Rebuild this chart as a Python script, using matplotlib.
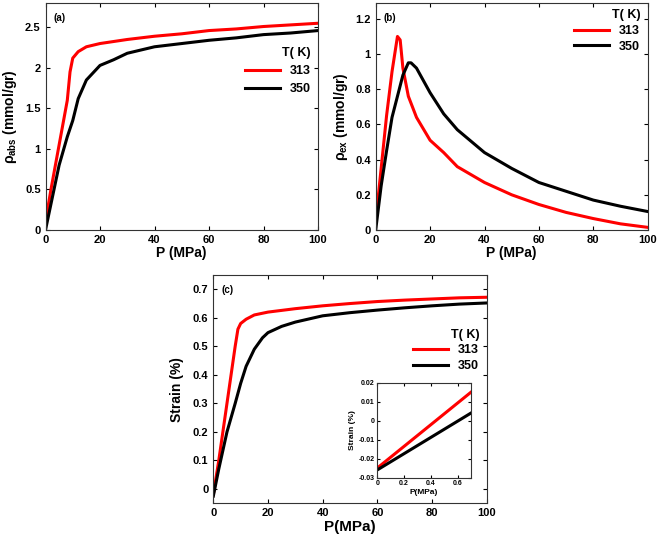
import matplotlib
matplotlib.use('Agg')
import matplotlib.pyplot as plt
from matplotlib.ticker import FuncFormatter

plt.rcParams['font.family'] = ['Liberation Sans', 'DejaVu Sans']
plt.rcParams['font.weight'] = 'bold'
plt.rcParams['axes.labelweight'] = 'bold'
plt.rcParams['mathtext.fontset'] = 'custom'
plt.rcParams['mathtext.rm'] = 'Liberation Sans:bold'
plt.rcParams['mathtext.it'] = 'Liberation Sans:bold'
plt.rcParams['mathtext.bf'] = 'Liberation Sans:bold'

temps = ['313', '350']

# (a) absolute adsorption
p_abs_313 = [0, 2, 5, 8, 9, 10, 12, 15, 20, 30, 40, 50, 60, 70, 80, 90, 100]
abs_313 = [0.1, 0.5, 1.05, 1.6, 1.95, 2.12, 2.2, 2.26, 2.3, 2.35, 2.39, 2.42, 2.46, 2.48, 2.51, 2.53, 2.55]
p_abs_350 = [0, 5, 8, 10, 12, 15, 20, 25, 30, 40, 50, 60, 70, 80, 90, 100]
abs_350 = [0.0, 0.8, 1.15, 1.35, 1.62, 1.85, 2.03, 2.1, 2.18, 2.26, 2.3, 2.34, 2.37, 2.41, 2.43, 2.46]

# (b) excess adsorption
p_ex_313 = [0, 2, 4, 6, 8, 9, 10, 12, 15, 20, 25, 30, 40, 50, 60, 70, 80, 90, 100]
ex_313 = [0.05, 0.35, 0.65, 0.9, 1.1, 1.08, 0.92, 0.76, 0.64, 0.51, 0.44, 0.36, 0.27, 0.2, 0.145, 0.1, 0.065, 0.035, 0.015]
p_ex_350 = [0, 2, 4, 6, 8, 10, 12, 13, 15, 20, 25, 30, 40, 50, 60, 70, 80, 90, 100]
ex_350 = [0.0, 0.25, 0.45, 0.64, 0.76, 0.88, 0.95, 0.95, 0.92, 0.78, 0.66, 0.57, 0.44, 0.35, 0.27, 0.22, 0.17, 0.135, 0.105]

# (c) strain
p_st_313 = [0, 2, 5, 8, 9, 10, 12, 15, 20, 30, 40, 50, 60, 70, 80, 90, 100]
st_313 = [-0.02, 0.1, 0.3, 0.5, 0.56, 0.58, 0.595, 0.61, 0.62, 0.632, 0.642, 0.65, 0.657, 0.662, 0.666, 0.67, 0.672]
p_st_350 = [0, 2, 5, 8, 10, 12, 15, 18, 20, 25, 30, 40, 50, 60, 70, 80, 90, 100]
st_350 = [-0.025, 0.07, 0.2, 0.3, 0.37, 0.43, 0.49, 0.53, 0.548, 0.57, 0.585, 0.607, 0.618, 0.627, 0.635, 0.642, 0.648, 0.652]

# inset, low pressure
p_in = [0, 0.35, 0.7]
in_313 = [-0.025, -0.005, 0.015]
in_350 = [-0.026, -0.011, 0.004]

colors = ['#ff0000', '#000000']
W, H = 660, 536


def add_ax(x0, y0, x1, y1):
    # pixel box -> figure fraction
    return fig.add_axes([x0 / W, 1 - y1 / H, (x1 - x0) / W, (y1 - y0) / H])


def fmt(v, p):
    return '%g' % round(v, 4)


def style(ax, size=8):
    ax.tick_params(direction='in', top=True, right=True, labelsize=size, length=3)
    for s in ax.spines.values():
        s.set_linewidth(0.8)
        s.set_color('#333333')
    ax.yaxis.set_major_formatter(FuncFormatter(fmt))


def legend(ax, anchor_y, loc, spacing=0.5):
    ax.legend(title='T( K)', loc=loc, bbox_to_anchor=(1.0, anchor_y), frameon=False,
              fontsize=9, title_fontproperties={'weight': 'bold', 'size': 9},
              handlelength=2.8, borderaxespad=0.2, alignment='right',
              labelspacing=spacing)


fig = plt.figure(figsize=(6.6, 5.36), dpi=100)

# (a)
ax = add_ax(45.5, 3, 318, 230)
ax.plot(p_abs_313, abs_313, color=colors[0], lw=2.2, label=temps[0])
ax.plot(p_abs_350, abs_350, color=colors[1], lw=2.2, label=temps[1])
ax.set_xlim(0, 100)
ax.set_ylim(0, 2.8)
ax.set_yticks([0, 0.5, 1, 1.5, 2, 2.5])
style(ax)
ax.set_xlabel('P (MPa)', fontsize=10, labelpad=1)
ax.set_ylabel(r'$\rho_{abs}$ (mmol/gr)', fontsize=10, labelpad=4)
ax.text(0.03, 0.955, '(a)', transform=ax.transAxes, fontsize=7, va='top')
legend(ax, 0.7, 'center right')

# (b)
ax = add_ax(375.7, 3, 647.7, 230)
ax.plot(p_ex_313, ex_313, color=colors[0], lw=2.2, label=temps[0])
ax.plot(p_ex_350, ex_350, color=colors[1], lw=2.2, label=temps[1])
ax.set_xlim(0, 100)
ax.set_ylim(0, 1.29)
ax.set_yticks([0, 0.2, 0.4, 0.6, 0.8, 1, 1.2])
style(ax)
ax.set_xlabel('P (MPa)', fontsize=10, labelpad=1)
ax.set_ylabel(r'$\rho_{ex}$ (mmol/gr)', fontsize=10, labelpad=4)
ax.text(0.03, 0.955, '(b)', transform=ax.transAxes, fontsize=7, va='top')
legend(ax, 1.005, 'upper right', spacing=0.3)

# (c)
ax = add_ax(213.3, 275, 486.7, 503.3)
ax.plot(p_st_313, st_313, color=colors[0], lw=2.2, label=temps[0])
ax.plot(p_st_350, st_350, color=colors[1], lw=2.2, label=temps[1])
ax.set_xlim(0, 100)
ax.set_ylim(-0.05, 0.75)
ax.set_yticks([0, 0.1, 0.2, 0.3, 0.4, 0.5, 0.6, 0.7])
style(ax)
ax.set_xlabel('P(MPa)', fontsize=11, labelpad=1)
ax.set_ylabel('Strain (%)', fontsize=10, labelpad=6)
ax.text(0.03, 0.955, '(c)', transform=ax.transAxes, fontsize=7, va='top')
legend(ax, 0.67, 'center right', spacing=0.3)

# inset
axi = add_ax(377.3, 382.7, 471, 477.5)
axi.plot(p_in, in_313, color=colors[0], lw=2.2)
axi.plot(p_in, in_350, color=colors[1], lw=2.2)
axi.set_xlim(0, 0.7)
axi.set_ylim(-0.03, 0.02)
axi.set_xticks([0, 0.2, 0.4, 0.6])
axi.set_yticks([-0.03, -0.02, -0.01, 0, 0.01, 0.02])
style(axi, size=5)
axi.tick_params(length=2, pad=2)
axi.xaxis.set_major_formatter(FuncFormatter(fmt))
axi.set_xlabel('P(MPa)', fontsize=6, labelpad=1)
axi.set_ylabel('Strain (%)', fontsize=6, labelpad=2)

fig.savefig('out.png', dpi=100)
